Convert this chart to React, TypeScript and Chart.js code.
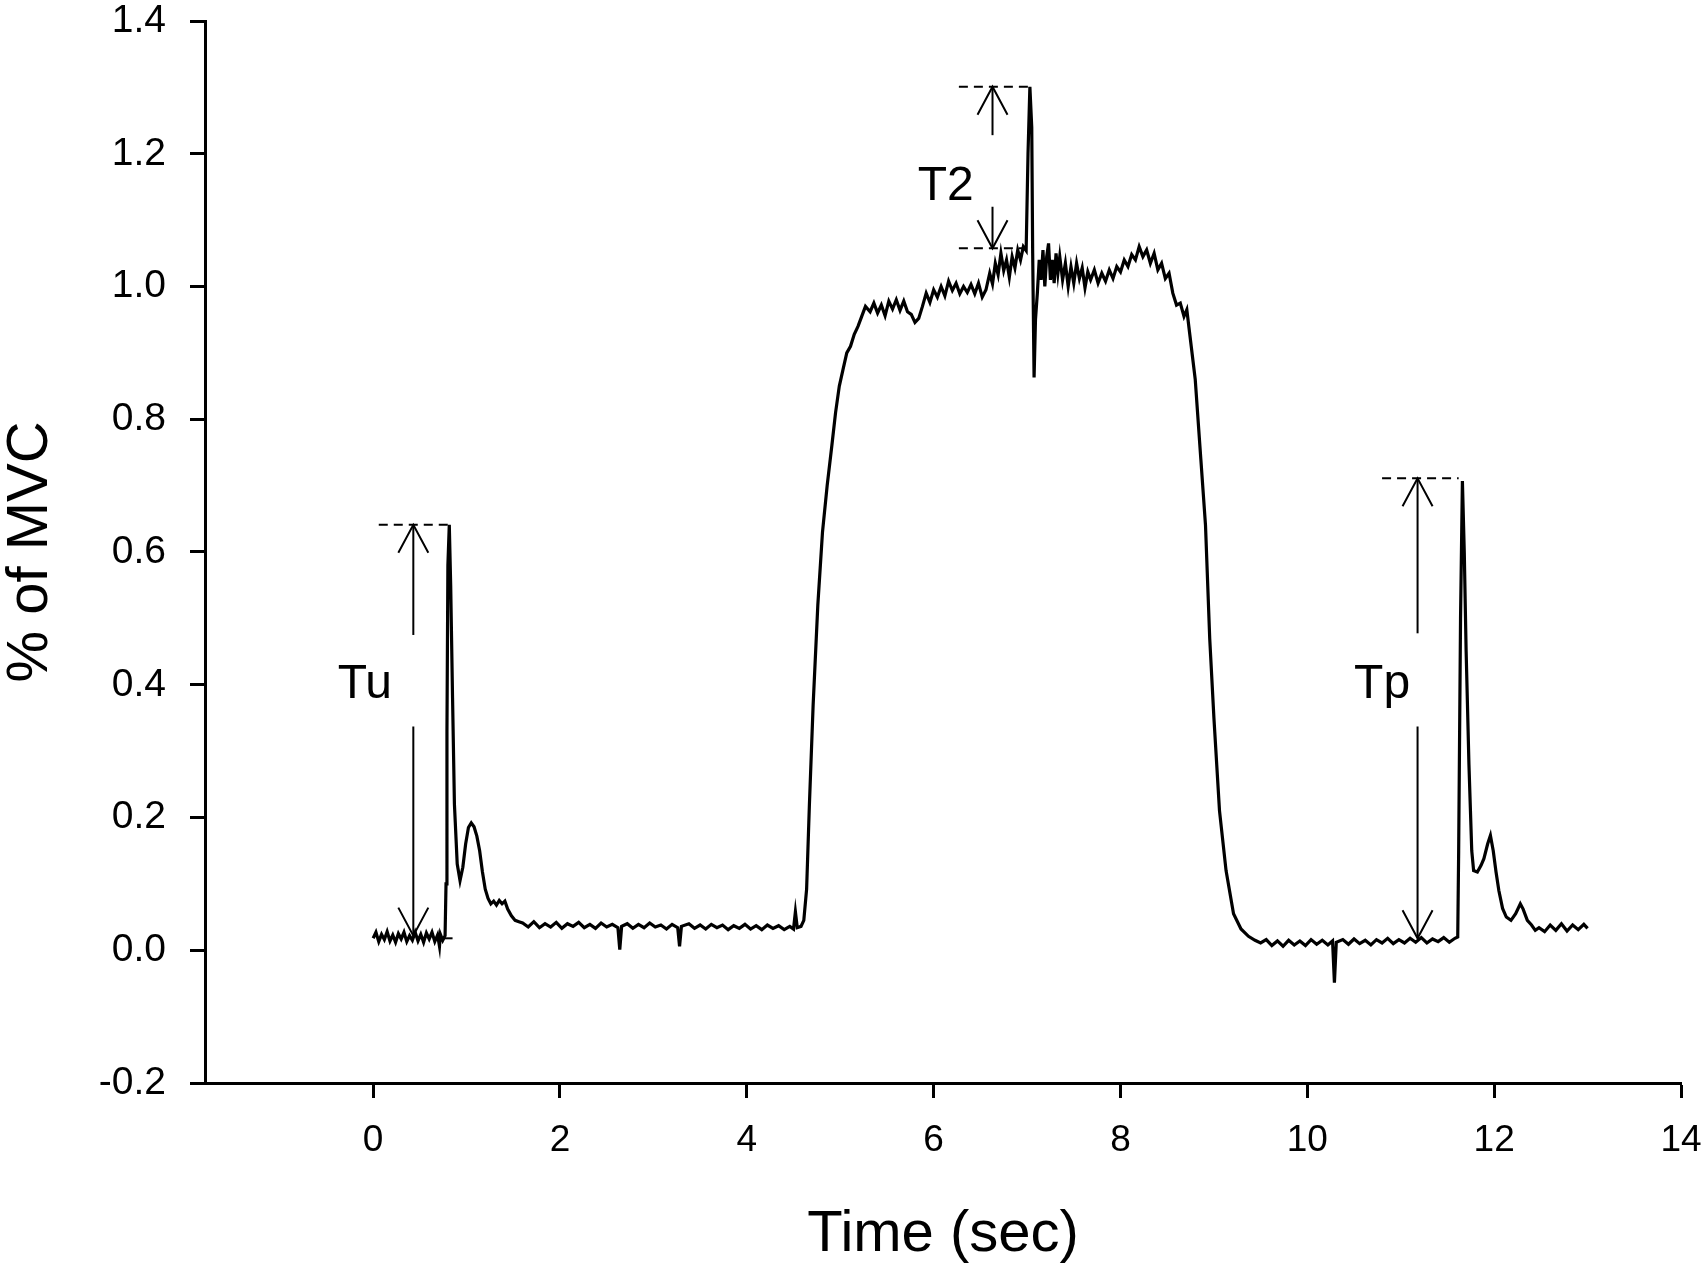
import React, { useEffect, useRef } from 'react';
import { Chart, registerables } from 'chart.js';

Chart.register(...registerables);

type Pt = [number, number];

// ---- trace segments: [time (s), fraction of MVC] ----
const restBefore: Pt[] = [
  [0.00, 0.018], [0.03, 0.027], [0.06, 0.013], [0.09, 0.024], [0.12, 0.016], [0.15, 0.028],
  [0.18, 0.014], [0.21, 0.023], [0.24, 0.012], [0.27, 0.025], [0.30, 0.017], [0.33, 0.027],
  [0.36, 0.013], [0.39, 0.022], [0.42, 0.015], [0.45, 0.027], [0.48, 0.014], [0.51, 0.024],
  [0.54, 0.012], [0.57, 0.026], [0.60, 0.017], [0.63, 0.027], [0.66, 0.013], [0.69, 0.023],
  [0.71, 0.006], [0.72, 0.024], [0.745, 0.015], [0.77, 0.022],
];

const twitchUnpotentiated: Pt[] = [
  [0.78, 0.10], [0.79, 0.33], [0.80, 0.58], [0.815, 0.641], [0.83, 0.55], [0.85, 0.38],
  [0.87, 0.22], [0.90, 0.13], [0.93, 0.105], [0.96, 0.125], [0.99, 0.16], [1.02, 0.185],
  [1.05, 0.192], [1.08, 0.186], [1.11, 0.172], [1.14, 0.15], [1.17, 0.118], [1.20, 0.092],
  [1.23, 0.078], [1.26, 0.07], [1.29, 0.074], [1.32, 0.068], [1.35, 0.075], [1.38, 0.07],
  [1.41, 0.074], [1.44, 0.062], [1.48, 0.052], [1.52, 0.045], [1.56, 0.043],
];

const restMiddle: Pt[] = [
  [1.60, 0.041], [1.66, 0.035], [1.72, 0.043], [1.78, 0.034], [1.84, 0.040], [1.90, 0.035],
  [1.96, 0.042], [2.02, 0.033], [2.08, 0.040], [2.14, 0.036], [2.20, 0.042], [2.26, 0.034],
  [2.32, 0.039], [2.38, 0.033], [2.44, 0.041], [2.50, 0.035], [2.56, 0.039], [2.62, 0.034],
  [2.64, 0.001], [2.66, 0.036], [2.72, 0.040], [2.78, 0.033], [2.84, 0.039], [2.90, 0.034],
  [2.96, 0.041], [3.02, 0.035], [3.08, 0.038], [3.14, 0.032], [3.20, 0.039], [3.26, 0.034],
  [3.28, 0.006], [3.30, 0.036], [3.38, 0.040], [3.44, 0.033], [3.50, 0.038], [3.56, 0.032],
  [3.62, 0.039], [3.68, 0.034], [3.74, 0.038], [3.80, 0.031], [3.86, 0.037], [3.92, 0.033],
  [3.98, 0.039], [4.04, 0.032], [4.10, 0.037], [4.16, 0.031], [4.22, 0.038], [4.28, 0.033],
  [4.34, 0.037], [4.40, 0.031], [4.46, 0.036], [4.50, 0.032], [4.52, 0.058], [4.54, 0.034],
  [4.58, 0.036],
];

const mvcRise: Pt[] = [
  [4.61, 0.045], [4.64, 0.092], [4.67, 0.22], [4.71, 0.37], [4.76, 0.52], [4.81, 0.63],
  [4.86, 0.70], [4.91, 0.76], [4.95, 0.81], [4.99, 0.85], [5.03, 0.875], [5.07, 0.90],
  [5.11, 0.91], [5.15, 0.928], [5.19, 0.94], [5.23, 0.955], [5.27, 0.97],
];

const mvcPlateau: Pt[] = [
  [5.32, 0.962], [5.36, 0.975], [5.40, 0.960], [5.44, 0.972], [5.48, 0.956], [5.52, 0.978],
  [5.56, 0.966], [5.60, 0.980], [5.64, 0.964], [5.68, 0.978], [5.72, 0.962], [5.76, 0.958],
  [5.80, 0.946], [5.84, 0.952], [5.88, 0.970], [5.92, 0.990], [5.96, 0.976], [6.00, 0.995],
  [6.04, 0.984], [6.08, 1.000], [6.12, 0.986], [6.16, 1.008], [6.20, 0.994], [6.24, 1.005],
  [6.28, 0.989], [6.32, 1.000], [6.36, 0.991], [6.40, 1.003], [6.44, 0.989], [6.48, 1.005],
  [6.52, 0.984], [6.56, 0.995], [6.60, 1.020], [6.63, 1.004], [6.66, 1.035], [6.69, 1.018],
  [6.72, 1.050], [6.75, 1.024], [6.78, 1.040], [6.81, 1.014], [6.84, 1.045], [6.87, 1.028],
  [6.90, 1.055], [6.93, 1.040], [6.96, 1.060], [6.99, 1.054], [7.01, 1.20], [7.03, 1.301],
  [7.05, 1.24], [7.06, 1.05], [7.075, 0.863], [7.09, 0.95], [7.11, 0.99], [7.13, 1.040],
  [7.15, 1.010], [7.17, 1.055], [7.19, 1.000], [7.21, 1.045], [7.23, 1.065], [7.25, 1.010],
  [7.27, 1.040], [7.29, 1.005], [7.31, 1.050], [7.33, 1.020], [7.35, 1.045], [7.38, 1.010],
  [7.41, 1.035], [7.44, 1.000], [7.47, 1.030], [7.50, 1.005], [7.53, 1.035], [7.56, 1.012],
  [7.59, 1.028], [7.62, 0.998], [7.65, 1.022], [7.68, 1.010], [7.72, 1.025], [7.76, 1.005],
  [7.80, 1.020], [7.84, 1.008], [7.88, 1.025], [7.92, 1.012], [7.96, 1.030], [8.00, 1.022],
  [8.04, 1.040], [8.08, 1.030], [8.12, 1.048], [8.16, 1.040], [8.20, 1.060], [8.24, 1.045],
  [8.28, 1.055], [8.32, 1.035], [8.36, 1.050], [8.40, 1.025], [8.44, 1.035], [8.48, 1.012],
  [8.52, 1.020], [8.56, 0.990], [8.60, 0.972], [8.64, 0.975], [8.68, 0.955], [8.71, 0.965],
];

const mvcFall: Pt[] = [
  [8.74, 0.93], [8.80, 0.86], [8.86, 0.74], [8.91, 0.64], [8.955, 0.47], [9.00, 0.35],
  [9.06, 0.21], [9.13, 0.12], [9.21, 0.055], [9.29, 0.032], [9.37, 0.021], [9.44, 0.015],
];

const restAfter: Pt[] = [
  [9.50, 0.011], [9.56, 0.016], [9.62, 0.007], [9.68, 0.014], [9.74, 0.006], [9.80, 0.015],
  [9.86, 0.008], [9.92, 0.014], [9.98, 0.007], [10.04, 0.016], [10.10, 0.009], [10.16, 0.015],
  [10.22, 0.008], [10.27, 0.014], [10.29, -0.049], [10.31, 0.012], [10.38, 0.016], [10.44, 0.009],
  [10.50, 0.017], [10.56, 0.010], [10.62, 0.015], [10.68, 0.008], [10.74, 0.016], [10.80, 0.011],
  [10.86, 0.018], [10.92, 0.010], [10.98, 0.016], [11.04, 0.011], [11.10, 0.018], [11.16, 0.012],
  [11.22, 0.019], [11.28, 0.011], [11.34, 0.017], [11.40, 0.013], [11.46, 0.019], [11.52, 0.012],
  [11.58, 0.018], [11.61, 0.020],
];

const twitchPotentiated: Pt[] = [
  [11.62, 0.15], [11.64, 0.50], [11.66, 0.707], [11.68, 0.60], [11.70, 0.45], [11.73, 0.28],
  [11.76, 0.15], [11.78, 0.12], [11.82, 0.118], [11.86, 0.128], [11.89, 0.138], [11.93, 0.16],
  [11.96, 0.173], [11.99, 0.15], [12.02, 0.118], [12.05, 0.09], [12.09, 0.063], [12.13, 0.05],
  [12.18, 0.045], [12.23, 0.055], [12.28, 0.07], [12.31, 0.062], [12.355, 0.045], [12.40, 0.038],
  [12.44, 0.030], [12.48, 0.034], [12.54, 0.028], [12.60, 0.038], [12.66, 0.030], [12.72, 0.040],
  [12.78, 0.029], [12.84, 0.038], [12.90, 0.031], [12.96, 0.039], [13.00, 0.033],
];

// ---- axes ----
const xTickValues = [0, 2, 4, 6, 8, 10, 12, 14];
const yTickValues = [-0.2, 0, 0.2, 0.4, 0.6, 0.8, 1.0, 1.2, 1.4];
const xTitle = 'Time (sec)';
const yTitle = '% of MVC';

// ---- annotations (data units) ----
// dashed reference lines: [xStart, xEnd, y]
const dashedRefs: [number, number, number][] = [
  [0.06, 0.86, 0.641],
  [0.76, 0.85, 0.018],
  [6.27, 7.04, 1.301],
  [6.27, 6.99, 1.0575],
  [10.8, 11.62, 0.711],
];
// arrows: [x, yFrom, yTo] (head at yTo)
const arrows: [number, number, number][] = [
  [0.43, 0.475, 0.641],
  [0.43, 0.337, 0.022],
  [6.63, 1.228, 1.301],
  [6.63, 1.12, 1.0575],
  [11.18, 0.4775, 0.711],
  [11.18, 0.337, 0.018],
];
// text labels: [text, x, y]
const twitchLabels: [string, number, number][] = [
  ['Tu', -0.09, 0.40],
  ['T2', 6.13, 1.15],
  ['Tp', 10.8, 0.40],
];

const FONT = '"Liberation Sans", Arial, Helvetica, sans-serif';

const annotationPlugin = {
  id: 'twitchAnnotations',
  afterDatasetsDraw(chart: any) {
    const { ctx, scales } = chart;
    const xs = scales.x;
    const ys = scales.y;
    ctx.save();
    ctx.strokeStyle = '#000';
    ctx.lineWidth = 2;
    ctx.lineCap = 'butt';
    const headLen = 28;
    const headHalf = 15;
    arrows.forEach(([x, y0, y1]) => {
      const px = xs.getPixelForValue(x);
      const tip = ys.getPixelForValue(y1);
      const from = ys.getPixelForValue(y0);
      const dir = from > tip ? 1 : -1;
      ctx.beginPath();
      ctx.moveTo(px - headHalf, tip + dir * headLen);
      ctx.lineTo(px, tip);
      ctx.lineTo(px + headHalf, tip + dir * headLen);
      ctx.stroke();
    });
    ctx.fillStyle = '#000';
    ctx.font = `48px ${FONT}`;
    ctx.textAlign = 'center';
    ctx.textBaseline = 'middle';
    twitchLabels.forEach(([t, x, y]) => {
      ctx.fillText(t, xs.getPixelForValue(x), ys.getPixelForValue(y));
    });
    ctx.restore();
  },
};

export default function App() {
  const ref = useRef<HTMLCanvasElement | null>(null);

  useEffect(() => {
    if (!ref.current) return;
    const trace = [
      ...restBefore, ...twitchUnpotentiated, ...restMiddle, ...mvcRise,
      ...mvcPlateau, ...mvcFall, ...restAfter, ...twitchPotentiated,
    ].map(([x, y]) => ({ x, y }));

    const datasets: any[] = [
      {
        data: trace,
        borderColor: '#000',
        borderWidth: 3.2,
        pointRadius: 0,
        tension: 0,
        fill: false,
      },
      ...dashedRefs.map(([x0, x1, y]) => ({
        data: [{ x: x0, y }, { x: x1, y }],
        borderColor: '#000',
        borderWidth: 2,
        borderDash: [9, 6],
        pointRadius: 0,
        fill: false,
      })),
      ...arrows.map(([x, y0, y1]) => ({
        data: [{ x, y: y0 }, { x, y: y1 }],
        borderColor: '#000',
        borderWidth: 2,
        pointRadius: 0,
        fill: false,
      })),
    ];

    const chart = new Chart(ref.current, {
      type: 'line',
      data: { datasets },
      plugins: [annotationPlugin],
      options: {
        animation: false,
        responsive: false,
        devicePixelRatio: 1,
        layout: { padding: { top: 21, right: 26, left: 0, bottom: 0 } },
        plugins: { legend: { display: false }, tooltip: { enabled: false } },
        scales: {
          x: {
            type: 'linear',
            min: -1.8,
            max: 14,
            afterBuildTicks: (s: any) => { s.ticks = xTickValues.map((v) => ({ value: v })); },
            afterFit: (s: any) => { s.height = 188; s.paddingLeft = 0; s.paddingRight = 0; },
            grid: { drawOnChartArea: false, drawTicks: true, tickLength: 15, tickWidth: 3, tickColor: '#000' },
            border: { display: true, color: '#000', width: 3 },
            ticks: {
              color: '#000', font: { family: FONT, size: 37, lineHeight: 1 }, padding: 24,
              maxRotation: 0, autoSkip: false, callback: (v: any) => String(v),
            },
            title: {
              display: true, text: xTitle, color: '#000',
              font: { family: FONT, size: 58, lineHeight: 1 }, padding: { top: 0, bottom: 7 },
            },
          },
          y: {
            type: 'linear',
            min: -0.2,
            max: 1.4,
            afterBuildTicks: (s: any) => { s.ticks = yTickValues.map((v) => ({ value: v })); },
            afterFit: (s: any) => { s.width = 205; s.paddingTop = 0; s.paddingBottom = 0; },
            grid: { drawOnChartArea: false, drawTicks: true, tickLength: 15, tickWidth: 3, tickColor: '#000' },
            border: { display: true, color: '#000', width: 3 },
            ticks: {
              color: '#000', font: { family: FONT, size: 39, lineHeight: 1 }, padding: 24,
              autoSkip: false, callback: (v: any) => Number(v).toFixed(1),
            },
            title: {
              display: true, text: yTitle, color: '#000',
              font: { family: FONT, size: 58, lineHeight: 1 }, padding: { top: 2, bottom: 0 },
            },
          },
        },
      } as any,
    });
    return () => chart.destroy();
  }, []);

  return (
    <div style={{ position: 'absolute', left: 0, top: 0, width: 1707, height: 1271, background: '#fff' }}>
      <canvas ref={ref} width={1707} height={1271} style={{ display: 'block' }} />
    </div>
  );
}
